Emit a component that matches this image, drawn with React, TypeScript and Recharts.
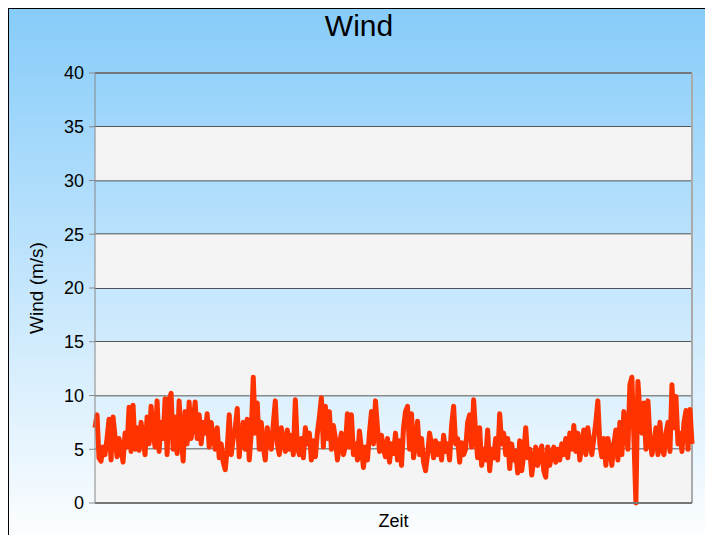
import React from 'react';
import { LineChart, Line, XAxis, YAxis, CartesianGrid, ReferenceArea, ReferenceLine } from 'recharts';

const windPart1 = [7.0, 8.2, 4.2, 3.9, 5.2, 4.5, 6.0, 7.8, 4.0, 8.0, 6.2, 4.3, 6.0, 5.0, 3.8, 6.5, 5.2, 8.9, 4.8, 9.1, 5.0, 7.0, 4.9, 7.5, 6.0, 4.5, 8.0, 5.5, 9.0, 6.5, 5.2, 9.5, 4.8, 7.5, 6.0, 9.7, 4.5, 9.6, 10.2, 5.0, 8.0, 4.6, 9.5, 6.2, 3.9, 8.5, 5.5, 9.4, 6.0, 7.5];
const windPart2 = [9.4, 6.0, 8.2, 5.5, 7.5, 6.5, 8.3, 5.2, 7.5, 6.0, 5.0, 7.0, 4.2, 5.5, 3.8, 3.1, 5.0, 8.2, 4.5, 6.0, 7.0, 8.8, 4.3, 6.5, 7.5, 5.0, 7.8, 4.0, 6.5, 11.7, 6.5, 9.3, 5.0, 7.5, 5.2, 4.0, 7.0, 5.5, 5.0, 7.3, 9.5, 5.5, 4.5, 7.0, 5.5, 4.8, 6.8, 5.0, 6.3, 4.5];
const windPart3 = [9.6, 5.2, 4.5, 6.0, 4.2, 7.0, 5.5, 6.5, 4.0, 5.8, 4.3, 6.5, 8.0, 9.8, 5.2, 9.0, 6.0, 8.5, 5.0, 7.2, 6.0, 4.0, 5.5, 6.5, 4.5, 5.3, 8.3, 5.2, 8.2, 4.5, 5.5, 4.0, 6.7, 5.0, 3.3, 5.2, 4.0, 6.5, 8.5, 5.5, 9.5, 7.0, 4.8, 6.3, 5.0, 4.3, 6.0, 3.8, 5.5, 4.6];
const windPart4 = [6.5, 4.0, 5.8, 3.5, 7.0, 8.5, 9.0, 5.0, 8.3, 4.2, 5.5, 7.6, 4.5, 6.0, 3.8, 3.0, 4.5, 6.5, 5.5, 4.2, 5.8, 4.5, 5.5, 4.0, 6.3, 4.8, 5.5, 4.0, 7.2, 9.0, 5.5, 6.0, 3.8, 5.6, 4.5, 5.0, 7.5, 8.2, 5.2, 9.6, 6.5, 4.2, 7.0, 3.5, 5.0, 4.0, 6.8, 3.0, 5.0, 4.2];
const windPart5 = [6.0, 4.0, 8.3, 5.5, 6.5, 4.5, 6.0, 3.2, 5.5, 4.0, 4.8, 2.8, 5.8, 3.0, 4.5, 7.0, 4.2, 5.0, 2.6, 4.0, 5.2, 3.5, 4.5, 5.3, 3.0, 2.4, 5.2, 3.5, 4.5, 5.2, 3.8, 5.0, 4.0, 5.5, 4.5, 6.0, 4.2, 6.5, 5.0, 7.2, 4.8, 6.5, 4.0, 5.5, 6.8, 4.5, 7.0, 5.5, 4.5, 6.0];
const windPart6 = [7.5, 9.5, 5.5, 4.3, 6.0, 3.5, 6.0, 5.0, 3.5, 5.5, 6.8, 4.0, 7.5, 4.5, 8.5, 6.5, 5.0, 11.0, 11.7, 6.0, 0.0, 11.3, 8.5, 6.5, 9.3, 5.0, 9.5, 6.0, 4.5, 5.5, 7.0, 4.5, 7.5, 5.0, 4.5, 6.5, 7.5, 4.8, 11.0, 7.0, 9.9, 5.5, 6.5, 4.8, 7.5, 8.6, 5.0, 8.7, 5.5];

const windValues = [...windPart1, ...windPart2, ...windPart3, ...windPart4, ...windPart5, ...windPart6];
const yTicks = [0, 5, 10, 15, 20, 25, 30, 35, 40];
const grayBands = [[0, 5], [10, 15], [20, 25], [30, 35]];

const data = windValues.map((v, i) => ({ t: i, wind: v }));
const FONT = '"Liberation Sans", Arial, sans-serif';

export default function App() {
  return (
    <div
      style={{
        position: 'relative',
        width: 700,
        height: 540,
        border: '1px solid #000',
        background: 'linear-gradient(to bottom, #87ccfa 0%, #ffffff 100%)',
        fontFamily: FONT,
      }}
    >
      <div
        style={{
          position: 'absolute',
          top: 0,
          left: 0,
          width: 700,
          textAlign: 'center',
          fontSize: 30,
          lineHeight: '34px',
          color: '#000',
        }}
      >
        Wind
      </div>
      <LineChart width={700} height={530} data={data} margin={{ top: 64, right: 17, left: 0, bottom: 0 }}>
        {grayBands.map(([a, b]) => (
          <ReferenceArea key={a} y1={a} y2={b} fill="#f4f4f4" fillOpacity={1} stroke="none" ifOverflow="visible" />
        ))}
        <CartesianGrid vertical={false} stroke="#222" strokeWidth={1.3} />
        <ReferenceLine y={40} stroke="#888" strokeWidth={1.5} />
        <ReferenceLine x={windValues.length - 1} stroke="#aaa" strokeWidth={2} />
        <XAxis
          dataKey="t"
          type="number"
          domain={['dataMin', 'dataMax']}
          tick={false}
          tickLine={false}
          height={36}
          stroke="#777"
          strokeWidth={2}
          label={{ value: 'Zeit', position: 'insideBottom', offset: 12, fill: '#000', fontSize: 18, fontFamily: FONT }}
        />
        <YAxis
          domain={[0, 40]}
          ticks={yTicks}
          width={86}
          stroke="#888"
          tickSize={6}
          tickMargin={5}
          tick={{ fill: '#000', fontSize: 18, fontFamily: FONT }}
          label={{ value: 'Wind (m/s)', angle: -90, position: 'insideLeft', offset: 27, fill: '#000', fontSize: 19, fontFamily: FONT, style: { textAnchor: 'middle' } }}
        />
        <Line
          type="linear"
          dataKey="wind"
          stroke="#ff3300"
          strokeWidth={5}
          strokeLinejoin="round"
          dot={false}
          isAnimationActive={false}
        />
      </LineChart>
    </div>
  );
}
